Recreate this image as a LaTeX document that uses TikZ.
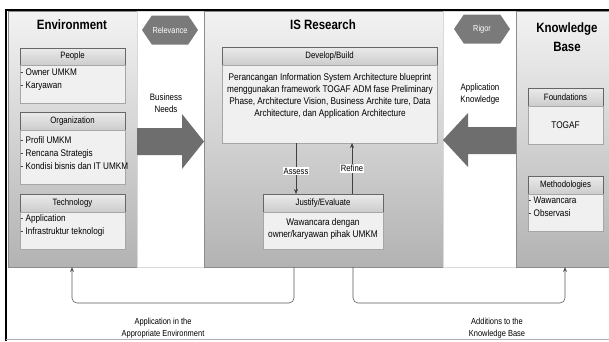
\documentclass[tikz,border=0pt]{standalone}
\usepackage{fontspec}
\setmainfont{Liberation Sans}[FakeStretch=0.85]
\usetikzlibrary{shapes.symbols,arrows.meta}
\definecolor{bord}{HTML}{8C8C8C}
\definecolor{hexfill}{HTML}{7A7A7A}
\definecolor{bigarrow}{HTML}{6E6E6E}
\tikzset{
  panel/.style={draw=bord, line width=0.6pt, top color=white!95!black, bottom color=black!30, inner sep=0pt, outer sep=0pt, anchor=north west},
  gap/.style={draw=black!15, fill=white, inner sep=0pt, outer sep=0pt, anchor=north west},
  hdr/.style={draw=black!60, line width=0.6pt, top color=black!8, bottom color=black!20, inner sep=0pt, outer sep=0pt, anchor=north west},
  bdy/.style={draw=black!35, line width=0.5pt, fill=black!6, inner sep=0pt, outer sep=0pt, anchor=north west},
  txt/.style={font=\fontsize{9.6}{12.8}\selectfont, inner sep=0pt, align=left, anchor=north west},
  htxt/.style={font=\fontsize{9.2}{11}\selectfont, inner sep=0pt, align=center},
  ctxt/.style={font=\fontsize{9.7}{12}\selectfont, inner sep=0pt, align=center},
  ttl/.style={font=\bfseries\fontsize{13.5}{19.5}\selectfont, inner sep=0pt, align=center},
  hexa/.style={signal, signal to=west and east, signal pointer angle=112, fill=hexfill, text=white, minimum width=56pt, minimum height=29pt, inner sep=0pt, font=\fontsize{8.7}{10}\selectfont},
  conn/.style={draw=black!75, line width=0.6pt, -{Stealth[length=5pt,width=4pt]}},
  fb/.style={draw=black!65, line width=0.6pt, rounded corners=5pt, -{Stealth[length=5pt,width=4pt]}},
  lbl/.style={fill=white, inner sep=1pt, font=\fontsize{9}{10}\selectfont},
  note/.style={font=\fontsize{9.3}{12}\selectfont, inner sep=0pt, align=center},
  bnote/.style={font=\fontsize{8.8}{11.5}\selectfont, inner sep=0pt, align=center}
}
\begin{document}
\begin{tikzpicture}[x=1pt,y=-1pt]
\useasboundingbox (0,0) rectangle (609,341);
% panels
\node[panel, minimum width=129pt, minimum height=256pt] (env) at (8,11) {};
\node[gap, minimum width=67pt, minimum height=256pt] (gap1) at (137,11) {};
\node[panel, minimum width=239pt, minimum height=256pt] (isr) at (204,11) {};
\node[gap, minimum width=73pt, minimum height=256pt] (gap2) at (443,11) {};
\node[panel, minimum width=93pt, minimum height=256pt] (kb) at (516,11) {};
% frame lines
\draw[black, line width=1.6pt] (6,10) -- (609,10);
\draw[black, line width=2.2pt] (6,9.2) -- (6,341);
\draw[black!30, line width=0.8pt] (6,339) -- (609,339);
% titles
\node[ttl] (envt) at (72,25) {Environment};
\node[ttl] (isrt) at (323,25) {IS Research};
\node[ttl] (kbt) at (567,37) {Knowledge\\Base};
% Environment boxes
\node[hdr, minimum width=105pt, minimum height=17pt] (peopleh) at (20,48) {};
\node[htxt] at (peopleh.center) {People};
\node[bdy, minimum width=105pt, minimum height=38pt] (peopleb) at (20,65) {};
\node[txt] (peoplet) at (20.5,68.5) {- Owner UMKM\\- Karyawan};
\node[hdr, minimum width=105pt, minimum height=18pt] (orgh) at (20,112) {};
\node[htxt] at (orgh.center) {Organization};
\node[bdy, minimum width=105pt, minimum height=54pt] (orgb) at (20,130) {};
\node[txt] (orgt) at (20.5,136.5) {- Profil UMKM\\- Rencana Strategis\\- Kondisi bisnis dan IT UMKM};
\node[hdr, minimum width=105pt, minimum height=18pt] (techh) at (20,194) {};
\node[htxt] at (techh.center) {Technology};
\node[bdy, minimum width=105pt, minimum height=37pt] (techb) at (20,212) {};
\node[txt] (techt) at (20.5,214.5) {- Application\\- Infrastruktur teknologi};
% IS Research boxes
\node[hdr, minimum width=215pt, minimum height=18pt] (devh) at (222,47) {};
\node[htxt] at (devh.center) {Develop/Build};
\node[bdy, minimum width=215pt, minimum height=78pt] (devb) at (222,65) {};
\node[ctxt] (devt) at (330,96) {Perancangan Information System Architecture blueprint\\menggunakan framework TOGAF ADM fase Preliminary\\Phase, Architecture Vision, Business Archite ture, Data\\Architecture, dan Application Architecture};
\node[hdr, minimum width=120pt, minimum height=18pt] (jush) at (263,194) {};
\node[htxt] at (jush.center) {Justify/Evaluate};
\node[bdy, minimum width=120pt, minimum height=37pt] (jusb) at (263,212) {};
\node[ctxt] (just) at (323,229) {Wawancara dengan\\owner/karyawan pihak UMKM};
% Knowledge base boxes
\node[hdr, minimum width=75pt, minimum height=18pt] (foundh) at (528,88) {};
\node[htxt] at (foundh.center) {Foundations};
\node[bdy, minimum width=75pt, minimum height=38pt] (foundb) at (528,106) {};
\node[ctxt] (foundt) at (565.5,125) {TOGAF};
\node[hdr, minimum width=75pt, minimum height=18pt] (methh) at (528,176) {};
\node[htxt] at (methh.center) {Methodologies};
\node[bdy, minimum width=75pt, minimum height=37pt] (methb) at (528,194) {};
\node[txt] (metht) at (528.5,196.5) {- Wawancara\\- Observasi};
% hexagons
\node[hexa] (rel) at (170,30) {Relevance};
\node[hexa] (rig) at (482,29) {Rigor};
\node[note] (bn) at (166,103) {Business\\Needs};
\node[note] (ak) at (480,94) {Application\\Knowledge};
% big arrows
\fill[bigarrow] (env.east |- 0,128) -- (182,128) -- (182,114) -- (isr.west |- 0,141.5) -- (182,169) -- (182,155) -- (env.east |- 0,155) -- cycle;
\fill[bigarrow] (kb.west |- 0,127) -- (468,127) -- (468,113) -- (isr.east |- 0,140) -- (468,167) -- (468,154) -- (kb.west |- 0,154) -- cycle;
% assess / refine
\draw[conn] (devb.south -| 296,0) -- node[lbl, pos=0.55] {Assess} (jush.north -| 296,0);
\draw[conn] (jush.north -| 352,0) -- node[lbl, pos=0.5] {Refine} (devb.south -| 352,0);
% feedback
\draw[fb] (isr.south -| 294,0) -- (294,303) -- (72,303) -- (env.south -| 72,0);
\draw[fb] (isr.south -| 353,0) -- (353,303) -- (565,303) -- (kb.south -| 565,0);
\node[bnote] (aae) at (163,328) {Application in the\\Appropriate Environment};
\node[bnote] (akb) at (497,328) {Additions to the\\Knowledge Base};
\end{tikzpicture}
\end{document}
